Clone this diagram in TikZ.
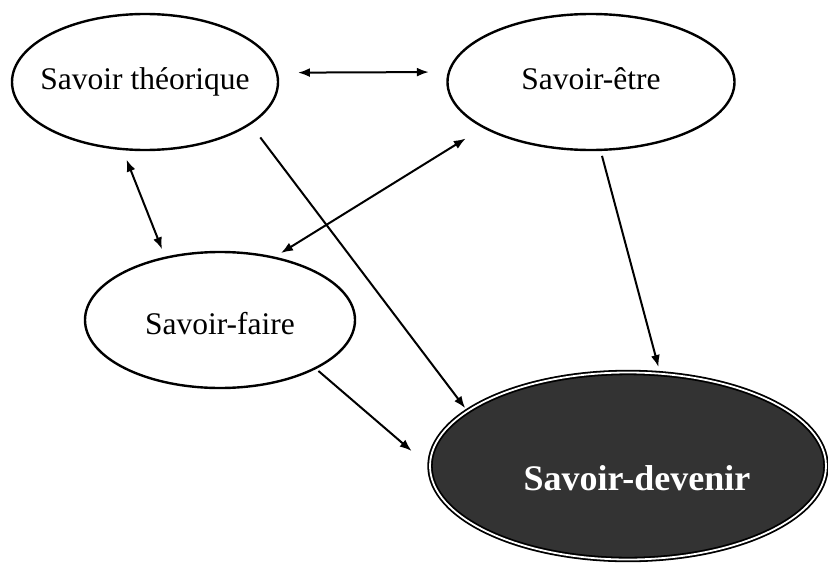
\documentclass[tikz,border=0pt]{standalone}
\usepackage{fontspec}
\setmainfont{Liberation Serif}
\usetikzlibrary{shapes.geometric}
\usetikzlibrary{arrows.meta}

\begin{document}
\begin{tikzpicture}[%
        x=1pt, y=-1pt,
        savoir/.style={
            % the shape:
            ellipse,
            % the rest:
            line width=2.4pt,
            draw=black,
            fill=white,
            inner sep=0pt,
            minimum height=136pt,
            font=\fontsize{31.5}{36}\selectfont,
            text height=22pt,
            text depth=7pt,
        },
        devenir/.style={
            ellipse,
            line width=1.8pt,
            draw=black,
            double=white,
            double distance=1.8pt,
            fill=black!80,
            inner sep=0pt,
            text=white,
            font=\fontsize{36}{40}\selectfont\bfseries,
            text height=48pt,
            text depth=0pt,
        },
        link/.style={
            line width=2pt,
        },
        >={Latex[length=12pt,width=9pt]}
    ]

    \useasboundingbox (0,0) rectangle (828,565);

    \node[savoir, minimum width=266pt] (theorique) at (145,82) {\makebox[0pt]{Savoir théorique}};
    \node[savoir, minimum width=287pt] (etre) at (591,82) {\makebox[0pt]{Savoir-être}};
    \node[savoir, minimum width=270pt, text height=36pt] (faire) at (220,320) {\makebox[0pt]{Savoir-faire}};
    \node[devenir, minimum width=396pt, minimum height=187pt] (dev) at (628,466)
        {\makebox[0pt]{\hspace{18pt}Savoir-devenir}};

    % both ways
    \draw[link, <->, shorten <=20pt, shorten >=19pt] (theorique.4) -- (etre.176);
    \draw[link, <->, shorten <=10pt, shorten >=8pt] (theorique.252) -- (faire.131);
    \draw[link, <->, shorten <=20pt, shorten >=7pt] (etre.203) -- (faire.49);

    % towards savoir-devenir
    \draw[link, ->, shorten <=16pt, shorten >=3pt] (theorique.338) -- (dev.161);
    \draw[link, ->, shorten <=5pt, shorten >=6pt] (etre.278) -- (dev.71);
    \draw[link, ->, shorten <=3pt, shorten >=23pt] (faire.333) -- (dev.180);

\end{tikzpicture}
\end{document}
